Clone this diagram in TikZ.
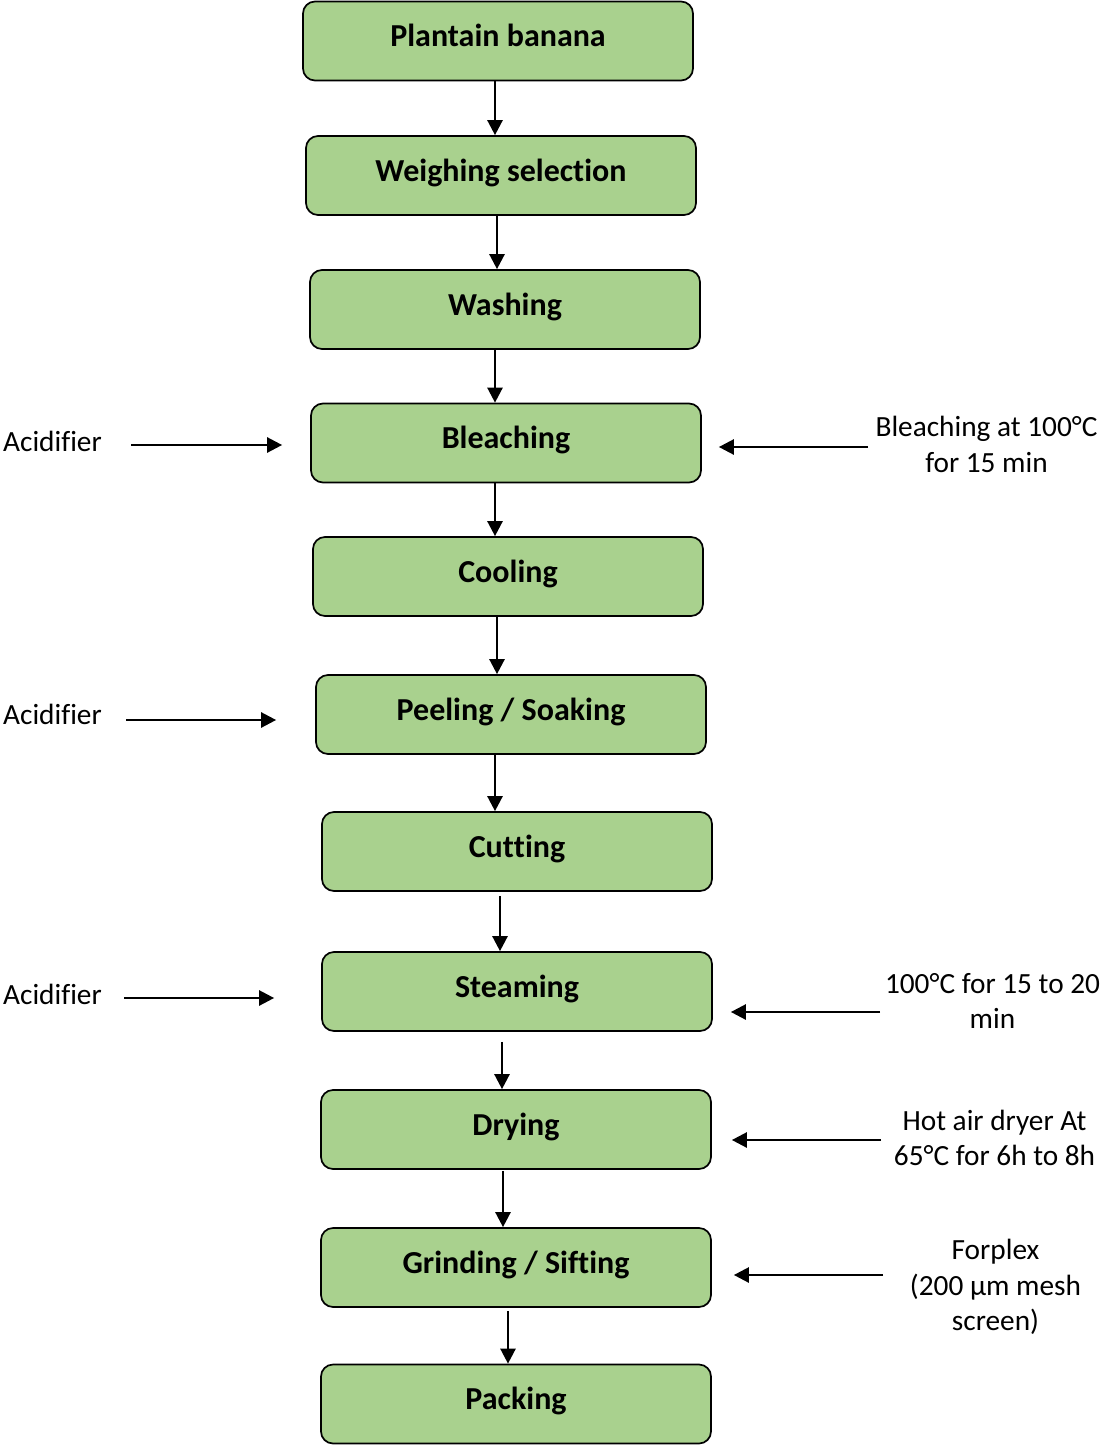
\documentclass[tikz,border=0pt]{standalone}
\usepackage{fontspec}
\setmainfont{Carlito}[Ligatures=NoCommon]
\usetikzlibrary{arrows.meta}
\definecolor{boxgreen}{HTML}{A9D18E}
\newcommand{\nl}{\kern0pt }
\begin{document}
\begin{tikzpicture}[x=1pt,y=-1pt,
 stepbox/.style={draw=black, line width=1.7pt, fill=boxgreen, rounded corners=12pt, minimum width=390pt, minimum height=79pt, font=\fontsize{32}{38}\selectfont\bfseries, text height=21pt, text depth=10pt, inner sep=0pt},
 side/.style={font=\fontsize{29.3}{35.5}\selectfont, align=center, inner sep=0pt},
 arr/.style={line width=2.5pt, -{Triangle[length=15pt,width=15pt]}}]
\useasboundingbox (0,0) rectangle (1102,1445);
\node[stepbox] (b1) at (498,41) {Plantain banana};
\node[stepbox] (b2) at (501,175.5) {Weighing selection};
\node[stepbox] (b3) at (505,309.5) {Washing};
\node[stepbox] (b4) at (506,443) {Bleaching};
\node[stepbox] (b5) at (508,576.5) {Cooling};
\node[stepbox] (b6) at (511,714.5) {Peeling / Soaking};
\node[stepbox] (b7) at (517,851.5) {Cut\nl ting};
\node[stepbox] (b8) at (517,991.5) {Steaming};
\node[stepbox] (b9) at (516,1129.5) {Drying};
\node[stepbox] (b10) at (516,1267.5) {Grinding / Sif\nl ting};
\node[stepbox] (b11) at (516,1404) {Packing};
\node[side] (ac1) at (52.5,441) {Acidif\nl ier};
\node[side] (ac2) at (52.5,714) {Acidif\nl ier};
\node[side] (ac3) at (52.5,994) {Acidif\nl ier};
\node[side] (rt1) at (986.5,444.5) {Bleaching at 100°\nl C\\for 15 min};
\node[side] (rt2) at (992.5,1001) {100°\nl C for 15 to 20\\min};
\node[side] (rt3) at (994.5,1138) {Hot air dryer At\\65°\nl C for 6h to 8h};
\node[side] (rt4) at (995.5,1287) {Forplex\\(200 µm mesh\\screen)};
% vertical flow
\draw[arr] ([xshift=-3pt]b1.south) -- ([xshift=-6pt]b2.north);
\draw[arr] ([xshift=-4pt]b2.south) -- ([xshift=-8pt]b3.north);
\draw[arr] ([xshift=-10pt]b3.south) -- ([xshift=-11pt]b4.north);
\draw[arr] ([xshift=-11pt]b4.south) -- ([xshift=-13pt]b5.north);
\draw[arr] ([xshift=-11pt]b5.south) -- ([xshift=-14pt]b6.north);
\draw[arr] ([xshift=-16pt]b6.south) -- ([xshift=-22pt]b7.north);
\draw[arr] ([shift={(-17,4)}]b7.south) -- ([xshift=-17pt]b8.north);
\draw[arr] ([shift={(-15,10)}]b8.south) -- ([xshift=-14pt]b9.north);
\draw[arr] ([shift={(-13,1)}]b9.south) -- ([xshift=-13pt]b10.north);
\draw[arr] ([shift={(-8,3)}]b10.south) -- ([xshift=-8pt]b11.north);
% side inputs
\draw[arr] ([shift={(78.5,4)}]ac1.center) -- ([shift={(-28,2)}]b4.west);
\draw[arr] ([shift={(73.5,6)}]ac2.center) -- ([shift={(-39,5.5)}]b6.west);
\draw[arr] ([shift={(71.5,4)}]ac3.center) -- ([shift={(-47,6.5)}]b8.west);
\draw[arr] ([shift={(-118.5,2.5)}]rt1.center) -- ([shift={(17,4)}]b4.east);
\draw[arr] ([shift={(-112.5,11)}]rt2.center) -- ([shift={(18,20.5)}]b8.east);
\draw[arr] ([shift={(-113.5,2)}]rt3.center) -- ([shift={(20,10.5)}]b9.east);
\draw[arr] ([shift={(-112.5,-12)}]rt4.center) -- ([shift={(22,7.5)}]b10.east);
\end{tikzpicture}
\end{document}
